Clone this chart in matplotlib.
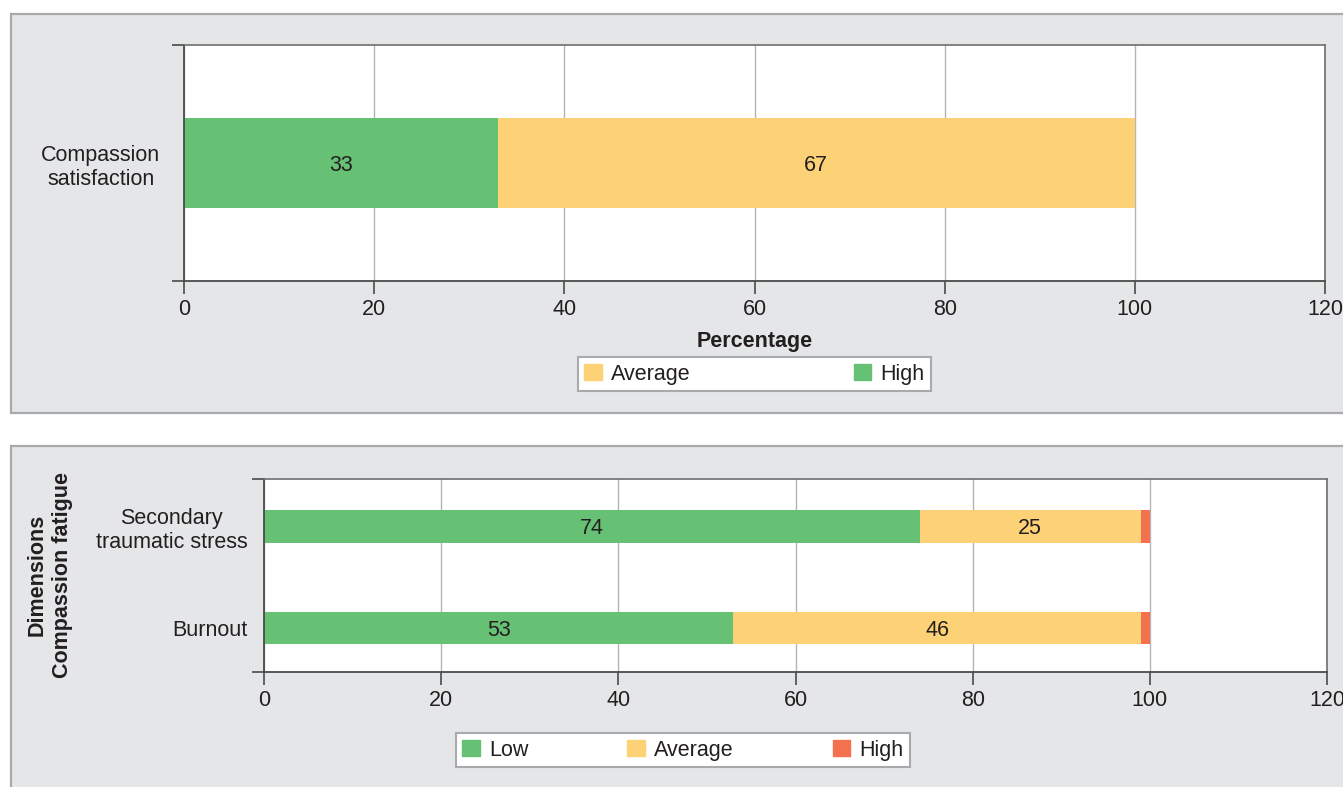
import matplotlib
matplotlib.use("Agg")
import matplotlib.pyplot as plt
from matplotlib.patches import Rectangle, Patch
import numpy as np

plt.rcParams['font.family'] = ['Liberation Sans', 'DejaVu Sans']

# Compassion satisfaction
cs_categories = ["Compassion\nsatisfaction"]
cs_high = [33]
cs_average = [67]

# Compassion fatigue dimensions (bottom to top)
cf_categories = ["Burnout", "Secondary\ntraumatic stress"]
cf_low = [53, 74]
cf_average = [46, 25]
cf_high = [1, 1]

x_ticks = [0, 20, 40, 60, 80, 100, 120]

GREEN = "#67c174"
YELLOW = "#fdd276"
RED = "#f4714f"
PANEL = "#e5e6e8"
PANEL_EDGE = "#a9aaad"
TEXT = "#231f20"
GRID = "#b4b4b4"
FS = 15.5

W, H = 1343, 787
fig = plt.figure(figsize=(W / 100, H / 100), dpi=100)
fig.patch.set_facecolor("white")


def fx(px):
    return px / W


def fy(py):
    return 1 - py / H


# grey panels behind each chart
fig.patches.append(Rectangle((fx(11), fy(413)), 1.2, fy(14) - fy(413),
                             transform=fig.transFigure, facecolor=PANEL,
                             edgecolor=PANEL_EDGE, linewidth=1.6, zorder=-5))
fig.patches.append(Rectangle((fx(11), fy(830)), 1.2, fy(446) - fy(830),
                             transform=fig.transFigure, facecolor=PANEL,
                             edgecolor=PANEL_EDGE, linewidth=1.6, zorder=-5))


def style_axes(ax, lo, hi):
    ax.set_facecolor("white")
    ax.set_xlim(0, 120)
    ax.set_xticks(x_ticks)
    ax.set_ylim(lo, hi)
    ax.grid(axis="x", color=GRID, linewidth=1.0)
    ax.set_axisbelow(True)
    for side in ["left", "bottom"]:
        ax.spines[side].set_color("#4a4a4a")
        ax.spines[side].set_linewidth(1.3)
    for side in ["top", "right"]:
        ax.spines[side].set_color("#6e6e6e")
        ax.spines[side].set_linewidth(1.2)
    ax.tick_params(axis="x", length=9, width=1.2, color="#4a4a4a",
                   labelsize=FS, labelcolor=TEXT, pad=4)
    ax.tick_params(axis="y", which="major", length=0, labelsize=FS,
                   labelcolor=TEXT)
    ax.set_yticks([lo, hi], minor=True)
    ax.tick_params(axis="y", which="minor", length=9, width=1.2,
                   color="#4a4a4a")


def label_segments(ax, y, starts, widths):
    for s, w in zip(starts, widths):
        if w >= 5:
            ax.text(s + w / 2, y, f"{w:g}", ha="center",
                    va="center_baseline", fontsize=FS, color=TEXT)


def set_category_labels(ax, ticks, labels, pad):
    ax.set_yticks(ticks)
    ax.set_yticklabels(labels, ha="right", multialignment="center")
    ax.tick_params(axis="y", which="major", pad=pad)


# --- top chart ---
ax1 = fig.add_axes([fx(184), fy(281), fx(1325) - fx(184), fy(45) - fy(281)])
y1 = np.arange(len(cs_categories))
ax1.barh(y1, cs_high, height=0.385, color=GREEN, label="High")
ax1.barh(y1, cs_average, left=cs_high, height=0.385, color=YELLOW,
         label="Average")
for i in range(len(cs_categories)):
    label_segments(ax1, y1[i], [0, cs_high[i]], [cs_high[i], cs_average[i]])
style_axes(ax1, -0.5, 0.5)
set_category_labels(ax1, y1, cs_categories, 17)
ax1.set_xlabel("Percentage", fontsize=FS, fontweight="bold", color=TEXT,
               labelpad=8)


def make_legend(handles, box):
    leg = fig.legend(handles=handles, bbox_to_anchor=box,
                     loc="lower left", mode="expand", ncol=len(handles),
                     fontsize=FS, frameon=True, fancybox=False,
                     framealpha=1.0, facecolor="white",
                     handlelength=0.8, handleheight=0.8, handletextpad=0.45,
                     borderpad=0.3, borderaxespad=0)
    leg.get_frame().set_edgecolor(PANEL_EDGE)
    leg.get_frame().set_linewidth(1.5)
    for t in leg.get_texts():
        t.set_color(TEXT)
    return leg


make_legend([Patch(color=YELLOW, label="Average"),
             Patch(color=GREEN, label="High")],
            (fx(578), fy(391), fx(931) - fx(578), fy(362) - fy(391)))

# --- bottom chart ---
ax2 = fig.add_axes([fx(264), fy(672), fx(1327) - fx(264), fy(479) - fy(672)])
y2 = np.arange(len(cf_categories))
left_avg = np.array(cf_low)
left_high = left_avg + np.array(cf_average)
ax2.barh(y2, cf_low, height=0.317, color=GREEN, label="Low")
ax2.barh(y2, cf_average, left=left_avg, height=0.317, color=YELLOW,
         label="Average")
ax2.barh(y2, cf_high, left=left_high, height=0.317, color=RED, label="High")
for i in range(len(cf_categories)):
    label_segments(ax2, y2[i], [0, left_avg[i], left_high[i]],
                   [cf_low[i], cf_average[i], cf_high[i]])
style_axes(ax2, -0.44, 1.47)
set_category_labels(ax2, y2, cf_categories, 12)

fig.text(fx(50), fy(575), "Dimensions\nCompassion fatigue", rotation=90,
         ha="center", va="center", fontsize=FS, fontweight="bold",
         color=TEXT, linespacing=1.3)

make_legend([Patch(color=GREEN, label="Low"),
             Patch(color=YELLOW, label="Average"),
             Patch(color=RED, label="High")],
            (fx(456), fy(767), fx(910) - fx(456), fy(735) - fy(767)))

fig.savefig("out.png", dpi=100, facecolor="white")
